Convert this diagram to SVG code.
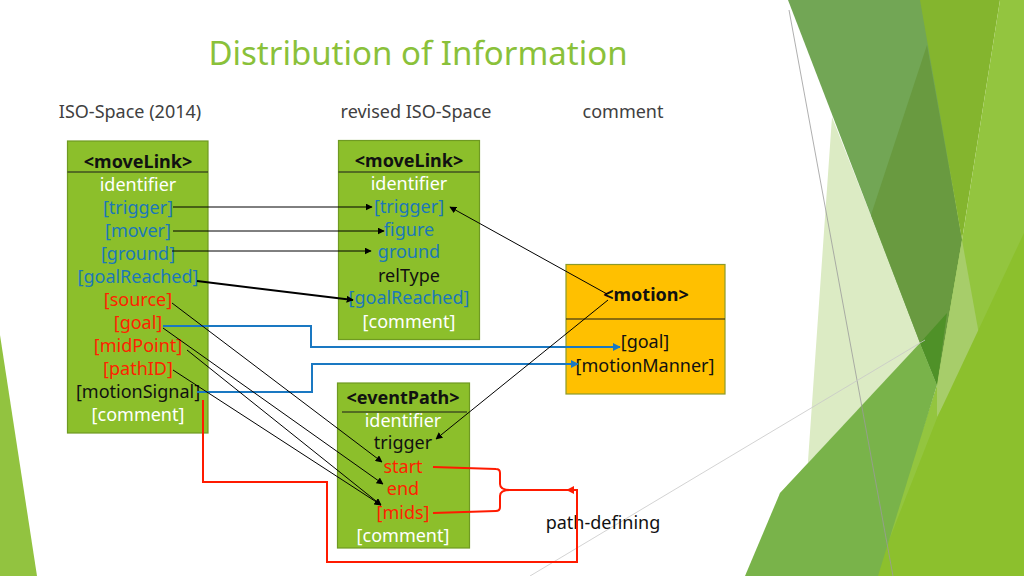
<svg xmlns="http://www.w3.org/2000/svg" width="1024" height="576" viewBox="0 0 1024 576">
<defs>
<marker id="ab" viewBox="0 0 10 10" refX="9" refY="5" markerWidth="7" markerHeight="7" orient="auto" markerUnits="userSpaceOnUse"><path d="M0,0 L10,5 L0,10 Z" fill="#000"/></marker>
<marker id="abl" viewBox="0 0 10 10" refX="9" refY="5" markerWidth="8" markerHeight="8" orient="auto" markerUnits="userSpaceOnUse"><path d="M0,0 L10,5 L0,10 Z" fill="#1a78c2"/></marker>
<marker id="ar" viewBox="0 0 10 10" refX="9" refY="5" markerWidth="8" markerHeight="8" orient="auto" markerUnits="userSpaceOnUse"><path d="M0,0 L10,5 L0,10 Z" fill="#ff1a00"/></marker>
</defs>
<style>
text{font-family:"Noto Sans","Open Sans","DejaVu Sans",sans-serif;font-size:18px;text-anchor:middle}
.box{fill:#8cbf2b;stroke:#6f9a22;stroke-width:1.2}
.mot{fill:#ffc000;stroke:#8c9a2a;stroke-width:1.2}
.sep{stroke:#1a1a1a;stroke-width:1.2}
.hd{font-weight:bold;fill:#111}
.w{fill:#ffffff}
.b{fill:#1b78b8}
.r{fill:#ff2200}
.k{fill:#111}
.hdr{fill:#404040}
.thin{stroke:#000;stroke-width:1;fill:none}
.blue{stroke:#1a78c2;stroke-width:2;fill:none}
.red{stroke:#ff1a00;stroke-width:2;fill:none}
</style>
<rect width="1024" height="576" fill="#ffffff"/>
<g id="decor">
<polygon points="0,335 37,576 0,576" fill="#92c340"/>
<polygon points="832,117 921,343 780,493 757,576 800,576" fill="#dcebc4"/>
<polygon points="788,0 922,0 962,240 937,385 920,343" fill="#72a655"/>
<polygon points="927,45 962,240 937,385 920,343 871,215" fill="#699a40"/>
<polygon points="920,0 1000,0 962,240" fill="#84b52e"/>
<polygon points="1000,0 1024,0 1024,576 875,576 937,385 962,240" fill="#93c53f"/>
<polygon points="962,240 980,340 937,417 937,385" fill="#a7cd6a"/>
<polygon points="1024,233 1024,576 875,576 937,418" fill="#8cc02d"/>
<polygon points="920,343 937,385 878,576 745,576 780,493" fill="#79b34a"/>
<polygon points="920,343 947,313 937,385" fill="#4f9128"/>
<line x1="789" y1="10" x2="893" y2="576" stroke="#9a9a9a" stroke-width="0.8"/>
<line x1="925" y1="340" x2="530" y2="576" stroke="#c8c8c8" stroke-width="0.8"/>
</g>
<text x="418" y="65" style="font-size:33px;fill:#8ac13a">Distribution of Information</text>
<text x="130" y="118" class="hdr">ISO-Space (2014)</text>
<text x="416" y="118" class="hdr">revised ISO-Space</text>
<text x="623" y="118" class="hdr">comment</text>
<g id="moveLink-old">
<rect x="67.5" y="141" width="140.5" height="292" class="box"/>
<line x1="67.5" y1="172" x2="208" y2="172" class="sep"/>
<text x="138" y="168" class="hd">&lt;moveLink&gt;</text>
<text x="138" y="191" class="w">identifier</text>
<text x="138" y="214" class="b">[trigger]</text>
<text x="138" y="237" class="b">[mover]</text>
<text x="138" y="260" class="b">[ground]</text>
<text x="138" y="283" class="b">[goalReached]</text>
<text x="138" y="306" class="r">[source]</text>
<text x="138" y="329" class="r">[goal]</text>
<text x="138" y="352" class="r">[midPoint]</text>
<text x="138" y="375" class="r">[pathID]</text>
<text x="138" y="398" class="k">[motionSignal]</text>
<text x="138" y="421" class="w">[comment]</text>
</g>
<g id="moveLink-new">
<rect x="338.5" y="140.5" width="141" height="199" class="box"/>
<line x1="338.5" y1="172" x2="479.5" y2="172" class="sep"/>
<text x="409" y="167" class="hd">&lt;moveLink&gt;</text>
<text x="409" y="190" class="w">identifier</text>
<text x="409" y="213" class="b">[trigger]</text>
<text x="409" y="236" class="b">figure</text>
<text x="409" y="258" class="b">ground</text>
<text x="409" y="282" class="k">relType</text>
<text x="409" y="304" class="b">[goalReached]</text>
<text x="409" y="328" class="w">[comment]</text>
</g>
<g id="eventPath">
<rect x="337.5" y="383" width="132" height="165" class="box"/>
<line x1="342" y1="412" x2="467" y2="412" class="sep"/>
<text x="403" y="404" class="hd">&lt;eventPath&gt;</text>
<text x="403" y="427" class="w">identifier</text>
<text x="403" y="449" class="k">trigger</text>
<text x="403" y="473" class="r">start</text>
<text x="403" y="495" class="r">end</text>
<text x="403" y="519" class="r">[mids]</text>
<text x="403" y="542" class="w">[comment]</text>
</g>
<g id="motion">
<rect x="566" y="264.5" width="159" height="129.5" class="mot"/>
<line x1="566" y1="319" x2="725" y2="319" class="sep"/>
<text x="646" y="301" class="hd">&lt;motion&gt;</text>
<text x="645" y="348" class="k">[goal]</text>
<text x="645" y="372" class="k">[motionManner]</text>
</g>
<text x="603" y="529" class="k">path-defining</text>
<g id="connectors">
<line x1="173" y1="207" x2="372" y2="207" class="thin" marker-end="url(#ab)"/>
<line x1="173" y1="231" x2="384" y2="231" class="thin" marker-end="url(#ab)"/>
<line x1="172" y1="251" x2="371" y2="251" class="thin" marker-end="url(#ab)"/>
<line x1="197" y1="281" x2="353" y2="300" stroke="#000" stroke-width="2" marker-end="url(#ab)"/>
<path d="M163,326 H311 V347 H620" class="blue" marker-end="url(#abl)"/>
<path d="M197,392 H312 V364 H578" class="blue" marker-end="url(#abl)"/>
<line x1="172" y1="303" x2="382" y2="462" class="thin" marker-end="url(#ab)"/>
<line x1="163" y1="328" x2="383" y2="484" class="thin" marker-end="url(#ab)"/>
<line x1="187" y1="350" x2="381" y2="505" class="thin" marker-end="url(#ab)"/>
<line x1="173" y1="370" x2="381" y2="505" class="thin" marker-end="url(#ab)"/>
<line x1="607" y1="294" x2="450" y2="207" class="thin" marker-end="url(#ab)"/>
<line x1="608" y1="300" x2="436" y2="439" class="thin" marker-end="url(#ab)"/>
<path d="M203,400 V482 H327 V562 H577 V490 H567" class="red" marker-end="url(#ar)"/>
<path d="M433,467 L496,469 Q500,469 500,473 L500,484 Q500,490 510,490 L567,490" class="red"/>
<path d="M433,513 L496,511 Q500,511 500,507 L500,496 Q500,490 510,490" class="red"/>
</g>
</svg>
